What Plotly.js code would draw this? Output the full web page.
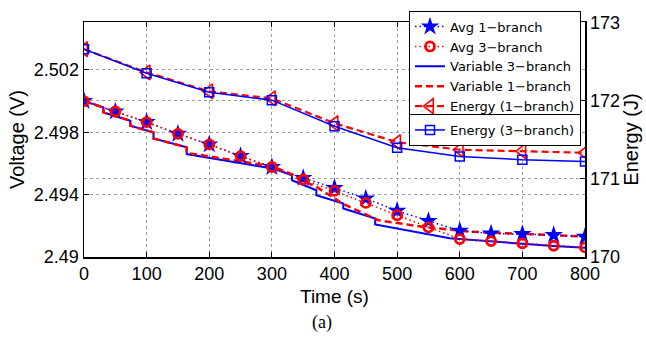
<!DOCTYPE html>
<html>
<head>
<meta charset="utf-8">
<script src="https://cdn.plot.ly/plotly-3.0.1.min.js"></script>
<style>html,body{margin:0;padding:0;background:#fff;}#chart{width:646px;height:339px;}</style>
</head>
<body>
<div id="chart"></div>
<script>
// Averaged points (every 50 s)
const avgTime = [0, 50, 100, 150, 200, 250, 300, 350, 400, 450, 500, 550, 600, 650, 700, 750, 800];
const avg1Branch = [2.5000, 2.49933, 2.49865, 2.49790, 2.49722, 2.49647, 2.49577, 2.49507, 2.49443, 2.49375, 2.49296, 2.49230, 2.49168, 2.49151, 2.49147, 2.49141, 2.49130];
const avg3Branch = [2.5000, 2.49933, 2.49865, 2.49790, 2.49722, 2.49647, 2.49577, 2.49497, 2.49424, 2.49347, 2.49268, 2.49190, 2.49115, 2.49102, 2.49088, 2.49072, 2.49062];

// Variable (step-like) voltage traces
const var3Time = [0, 31, 31, 74, 74, 111, 111, 164, 164, 302, 332, 332, 371, 371, 414, 414, 465, 465, 584, 600, 648, 699, 750, 800];
const var3Volt = [2.5000, 2.49959, 2.49927, 2.49874, 2.49842, 2.49799, 2.49760, 2.49703, 2.49660, 2.49567, 2.49524, 2.49492, 2.49428, 2.49396, 2.49343, 2.49311, 2.49247, 2.49209, 2.49120, 2.49115, 2.49098, 2.49083, 2.49070, 2.49060];
const var1Time = [0, 31, 31, 74, 74, 111, 111, 164, 164, 302, 332, 345, 371, 398, 409, 414, 465, 470, 547, 568, 616, 675, 723, 771, 800];
const var1Volt = [2.5000, 2.49959, 2.49927, 2.49874, 2.49842, 2.49799, 2.49760, 2.49703, 2.49668, 2.49580, 2.49530, 2.49495, 2.49450, 2.49385, 2.49353, 2.49340, 2.49250, 2.49236, 2.49190, 2.49183, 2.49162, 2.49150, 2.49145, 2.49136, 2.49130];

// Energy (every 100 s)
const energyTime = [0, 100, 200, 300, 400, 500, 600, 700, 800];
const energy1Branch = [172.662, 172.364, 172.121, 172.032, 171.713, 171.471, 171.374, 171.356, 171.335];
const energy3Branch = [172.662, 172.353, 172.111, 172.009, 171.675, 171.399, 171.288, 171.246, 171.224];

// Tick labels
const xTicks = [0, 100, 200, 300, 400, 500, 600, 700, 800];
const yTicks = [2.49, 2.494, 2.498, 2.502];
const yTickText = ['2.49', '2.494', '2.498', '2.502'];
const y2Ticks = [170, 171, 172, 173];

const vRange = [2.49, 2.50507];
const blue = '#0000ff', red = '#ff0000';
const traces = [
  {x: avgTime, y: avg1Branch, name: 'Avg 1\u2212branch', mode: 'lines+markers',
   line: {color: blue, width: 1.5, dash: '1.5px,3px'},
   marker: {symbol: 'star', size: 14, color: blue, line: {width: 0}}, yaxis: 'y3'},
  {x: avgTime, y: avg3Branch, name: 'Avg 3\u2212branch', mode: 'lines+markers',
   line: {color: red, width: 1.5, dash: '1.5px,3px'},
   marker: {symbol: 'circle-open', size: 9, color: red, line: {width: 2.8, color: red}}, yaxis: 'y3'},
  {x: var3Time, y: var3Volt, name: 'Variable 3\u2212branch', mode: 'lines',
   line: {color: blue, width: 2}, yaxis: 'y'},
  {x: var1Time, y: var1Volt, name: 'Variable 1\u2212branch', mode: 'lines',
   line: {color: red, width: 2.5, dash: '7px,4px'}, yaxis: 'y'},
  {x: energyTime, y: energy1Branch, name: 'Energy (1\u2212branch)', mode: 'lines+markers',
   line: {color: red, width: 2.2, dash: '7px,4px'},
   marker: {symbol: 'triangle-left-open', size: 13, color: red, line: {width: 1.6, color: red}}, yaxis: 'y2'},
  {x: energyTime, y: energy3Branch, name: 'Energy (3\u2212branch)', mode: 'lines+markers', legend: 'legend2',
   line: {color: blue, width: 1.5},
   marker: {symbol: 'square-open', size: 9, color: blue, line: {width: 1.5, color: blue}}, yaxis: 'y2'}
];

const sans = "'Liberation Sans', Arial, Helvetica, sans-serif";
const legendFont = {family: "'DejaVu Sans', sans-serif", size: 13, color: '#000'};
const layout = {
  width: 646, height: 339,
  margin: {l: 84, r: 61, t: 21, b: 82, pad: 0},
  paper_bgcolor: '#fff', plot_bgcolor: '#fff',
  font: {family: sans, size: 18, color: '#000'},
  showlegend: true,
  xaxis: {
    range: [0, 800], tickvals: xTicks, ticks: 'inside', ticklen: 5, tickcolor: '#000',
    showline: true, linecolor: '#000', linewidth: 1.5, mirror: 'ticks',
    showgrid: true, gridcolor: '#a0a0a0', griddash: 'dot', gridwidth: 1, zeroline: false,
    tickfont: {family: sans, size: 18}
  },
  yaxis: {
    range: vRange, tickvals: yTicks, ticktext: yTickText, ticks: 'inside', ticklen: 5, tickcolor: '#000',
    showline: true, linecolor: '#000', linewidth: 1.5,
    showgrid: true, gridcolor: '#a0a0a0', griddash: 'dot', gridwidth: 1, zeroline: false,
    tickfont: {family: sans, size: 18},
    title: {text: 'Voltage (V)', font: {family: sans, size: 20}, standoff: 4}
  },
  yaxis2: {
    range: [170, 173.01], tickvals: y2Ticks, ticks: 'inside', ticklen: 5, tickcolor: '#000',
    overlaying: 'y', side: 'right',
    showline: true, linecolor: '#000', linewidth: 1.5,
    showgrid: true, gridcolor: '#a0a0a0', griddash: 'dot', gridwidth: 1, zeroline: false,
    tickfont: {family: sans, size: 18},
    title: {text: 'Energy (J)', font: {family: sans, size: 20}, standoff: 4}
  },
  yaxis3: {
    range: vRange, overlaying: 'y', side: 'left', visible: false
  },
  legend: {
    x: 0.992, y: 1.044, xanchor: 'right', yanchor: 'top',
    bgcolor: '#fff', bordercolor: '#000', borderwidth: 1,
    font: legendFont, itemwidth: 30, tracegroupgap: 0
  },
  legend2: {
    x: 0.992, y: 0.606, xanchor: 'right', yanchor: 'top',
    bgcolor: '#fff', bordercolor: '#000', borderwidth: 1,
    font: legendFont, itemwidth: 30
  },
  annotations: [
    {text: 'Time (s)', xref: 'paper', yref: 'paper', x: 0.5, y: -0.168,
     xanchor: 'center', yanchor: 'middle', showarrow: false,
     font: {family: sans, size: 19}},
    {text: '(a)', xref: 'paper', yref: 'paper', x: 0.475, y: -0.28,
     xanchor: 'center', yanchor: 'middle', showarrow: false,
     font: {family: "'Liberation Serif', 'Times New Roman', serif", size: 18}}
  ]
};

Plotly.newPlot('chart', traces, layout, {displayModeBar: false, staticPlot: true});
</script>
</body>
</html>
